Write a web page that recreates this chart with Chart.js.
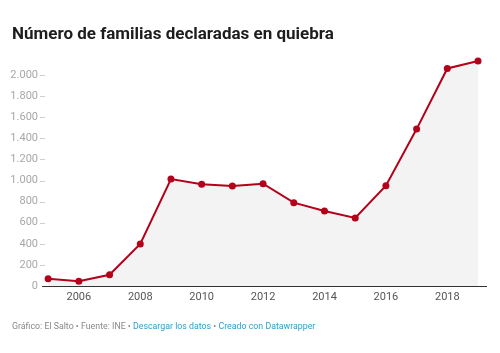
<!DOCTYPE html>
<html><head><meta charset="utf-8">
<script src="https://cdn.jsdelivr.net/npm/chart.js@4/dist/chart.umd.min.js"></script>
<style>
html,body{margin:0;padding:0;background:#fff;width:500px;height:353px;overflow:hidden;font-family:Roboto,"Noto Sans",sans-serif;}
#wrap{position:absolute;left:0;top:0;width:500px;height:353px;}
#title{position:absolute;left:12px;top:23px;font-size:17px;font-weight:700;color:#1d1d1d;white-space:nowrap;letter-spacing:0px;}
#foot{position:absolute;left:12px;top:321px;font-size:8.8px;color:#888;white-space:nowrap;}
#foot .l{color:#2aa1cf;}
</style></head><body>
<div id="wrap"><canvas id="c" width="500" height="353"></canvas></div>
<div id="title">Número de familias declaradas en quiebra</div>
<div id="foot">Gráfico: El Salto • Fuente: INE • <span class="l">Descargar los datos</span> • <span class="l">Creado con Datawrapper</span></div>
<script>
const years = [2005,2006,2007,2008,2009,2010,2011,2012,2013,2014,2015,2016,2017,2018,2019];
const familias = [68,45,107,398,1014,964,948,970,790,711,645,951,1488,2063,2133];
const yTicks = [0,200,400,600,800,1000,1200,1400,1600,1800,2000];
const xTicks = [2006,2008,2010,2012,2014,2016,2018];

const fmt = v => v.toString().replace(/\B(?=(\d{3})+(?!\d))/g, '.');

const tickDash = {
  id:'tickDash',
  afterDraw(chart){
    const ctx = chart.ctx, y = chart.scales.y;
    ctx.save();
    ctx.strokeStyle = '#cfcfcf'; ctx.lineWidth = 1;
    yTicks.forEach(t=>{
      if(t===0) return;
      const py = Math.round(y.getPixelForValue(t))+0.5;
      ctx.beginPath(); ctx.moveTo(40,py); ctx.lineTo(45,py); ctx.stroke();
    });
    ctx.restore();
  }
};

new Chart(document.getElementById('c'), {
  type:'line',
  data:{
    datasets:[{
      data: years.map((x,i)=>({x:x,y:familias[i]})),
      borderColor:'#b3001b',
      backgroundColor:'#f3f3f3',
      fill:'origin',
      borderWidth:2,
      pointRadius:3.5,
      pointBackgroundColor:'#b3001b',
      pointBorderColor:'#b3001b',
      pointBorderWidth:0,
      tension:0
    }]
  },
  options:{
    responsive:false,
    animation:false,
    events:[],
    layout:{padding:{top:54,right:14,left:0,bottom:0}},
    plugins:{legend:{display:false},tooltip:{enabled:false},title:{display:false}},
    scales:{
      x:{
        type:'linear', min:2004.8, max:2019.26,
        afterBuildTicks(s){ s.ticks = xTicks.map(v=>({value:v})); },
        afterFit(s){ s.height = 67; },
        grid:{display:false, drawTicks:false},
        border:{display:true,color:'#333',width:1},
        ticks:{color:'#555',font:{family:'Roboto',size:11},padding:5,maxRotation:0,callback:v=>String(v)}
      },
      y:{
        min:0, max:2200,
        afterBuildTicks(s){ s.ticks = yTicks.map(v=>({value:v})); },
        afterFit(s){ s.width = 42; },
        grid:{display:false, drawTicks:false},
        border:{display:false},
        ticks:{color:'#a8a8a8',font:{family:'Roboto',size:11},padding:4,callback:v=>fmt(v)}
      }
    }
  },
  plugins:[tickDash]
});
</script>
</body></html>
